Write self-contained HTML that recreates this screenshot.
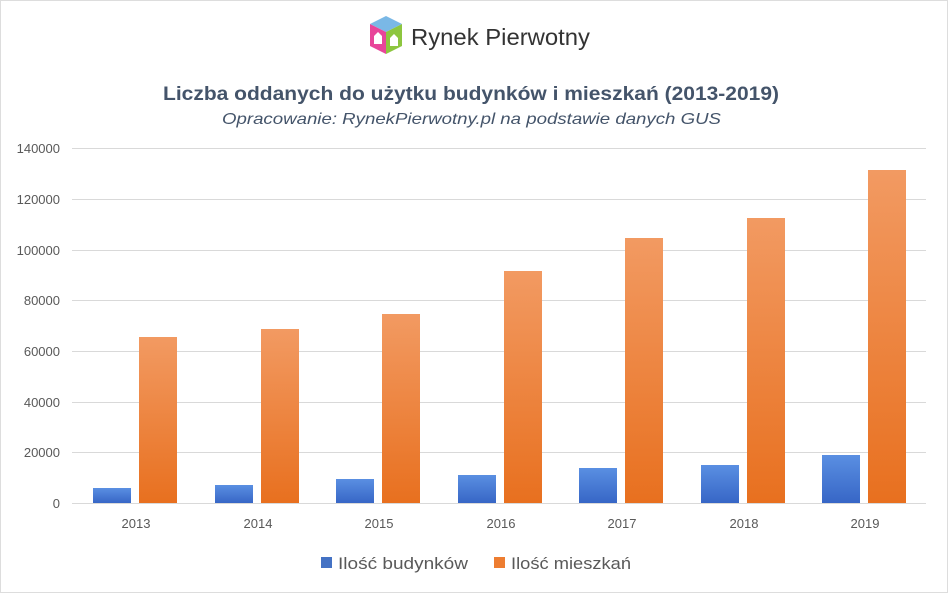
<html><head><style>body{margin:0;background:#fff;width:948px;height:593px;overflow:hidden;font-family:"Liberation Sans",sans-serif}</style></head><body>
<svg width="948" height="593" xmlns="http://www.w3.org/2000/svg">
<defs>
<linearGradient id="o" x1="0" y1="0" x2="0" y2="1"><stop offset="0" stop-color="#f29a62"/><stop offset="1" stop-color="#e8701f"/></linearGradient>
<linearGradient id="b" x1="0" y1="0" x2="0" y2="1"><stop offset="0" stop-color="#5a8fe2"/><stop offset="1" stop-color="#3766c6"/></linearGradient>
</defs>
<rect x="0.5" y="0.5" width="947" height="592" fill="#fff" stroke="#ddd"/>
<g transform="translate(368,14)">
<polygon points="2,10 18,2 34,10 18,18" fill="#7ab8e6"/>
<polygon points="2,10 18,18 18,40 2,32" fill="#e8459a"/>
<polygon points="34,10 18,18 18,40 34,32" fill="#8dc63f"/>
<polygon points="6,30 6,22 10,18 14,22 14,30" fill="#fff"/>
<polygon points="22,32 22,24 26,20 30,24 30,32" fill="#fff"/>
</g>
<text x="411" y="45" font-size="23" fill="#333" textLength="179" lengthAdjust="spacingAndGlyphs">Rynek Pierwotny</text>
<text x="163" y="100" font-size="19" font-weight="bold" fill="#44546a" textLength="616" lengthAdjust="spacingAndGlyphs">Liczba oddanych do użytku budynków i mieszkań (2013-2019)</text>
<text x="222" y="124" font-size="16" font-style="italic" fill="#44546a" textLength="499" lengthAdjust="spacingAndGlyphs">Opracowanie: RynekPierwotny.pl na podstawie danych GUS</text>
<g stroke="#d9d9d9" stroke-width="1">
<line x1="72" x2="926" y1="148.5" y2="148.5"/><line x1="72" x2="926" y1="199.5" y2="199.5"/><line x1="72" x2="926" y1="250.5" y2="250.5"/><line x1="72" x2="926" y1="300.5" y2="300.5"/><line x1="72" x2="926" y1="351.5" y2="351.5"/><line x1="72" x2="926" y1="402.5" y2="402.5"/><line x1="72" x2="926" y1="452.5" y2="452.5"/><line x1="72" x2="926" y1="503.5" y2="503.5"/>
</g>
<g font-size="13" fill="#595959" text-anchor="end">
<text x="60" y="153">140000</text><text x="60" y="204">120000</text><text x="60" y="255">100000</text><text x="60" y="305">80000</text><text x="60" y="356">60000</text><text x="60" y="407">40000</text><text x="60" y="457">20000</text><text x="60" y="508">0</text>
</g>
<g fill="url(#b)">
<rect x="93" y="488" width="38" height="15"/><rect x="215" y="485" width="38" height="18"/><rect x="336" y="479" width="38" height="24"/><rect x="458" y="475" width="38" height="28"/><rect x="579" y="468" width="38" height="35"/><rect x="701" y="465" width="38" height="38"/><rect x="822" y="455" width="38" height="48"/>
</g>
<g fill="url(#o)">
<rect x="139" y="337" width="38" height="166"/><rect x="261" y="329" width="38" height="174"/><rect x="382" y="314" width="38" height="189"/><rect x="504" y="271" width="38" height="232"/><rect x="625" y="238" width="38" height="265"/><rect x="747" y="218" width="38" height="285"/><rect x="868" y="170" width="38" height="333"/>
</g>
<g font-size="13" fill="#595959" text-anchor="middle">
<text x="136" y="528">2013</text><text x="258" y="528">2014</text><text x="379" y="528">2015</text><text x="501" y="528">2016</text><text x="622" y="528">2017</text><text x="744" y="528">2018</text><text x="865" y="528">2019</text>
</g>
<rect x="321" y="557" width="11" height="11" fill="#4472c4"/>
<text x="338" y="569" font-size="17" fill="#595959" textLength="130" lengthAdjust="spacingAndGlyphs">Ilość budynków</text>
<rect x="494" y="557" width="11" height="11" fill="#ed7d31"/>
<text x="511" y="569" font-size="17" fill="#595959" textLength="120" lengthAdjust="spacingAndGlyphs">Ilość mieszkań</text>
</svg>
</body></html>
